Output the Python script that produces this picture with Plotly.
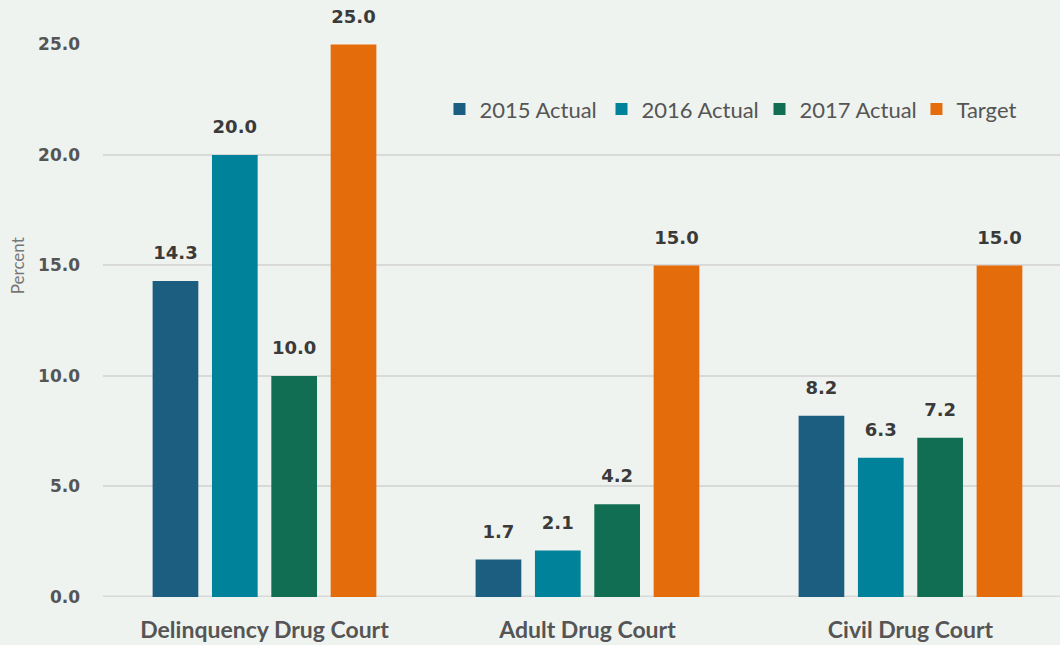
import plotly.graph_objects as go

categories = ["Delinquency Drug Court", "Adult Drug Court", "Civil Drug Court"]
series_names = ["2015 Actual", "2016 Actual", "2017 Actual", "Target"]
actual_2015 = [14.3, 1.7, 8.2]
actual_2016 = [20.0, 2.1, 6.3]
actual_2017 = [10.0, 4.2, 7.2]
target = [25.0, 15.0, 15.0]
colors = ["#1c5e80", "#00829a", "#126e52", "#e56c0b"]
y_ticks = [0, 5, 10, 15, 20, 25]

legend_ids = ["legend", "legend2", "legend3", "legend4"]
legend_x = [0.3516, 0.5209, 0.6860, 0.8500]

fig = go.Figure()
all_series = [actual_2015, actual_2016, actual_2017, target]
for i, (name, vals, col) in enumerate(zip(series_names, all_series, colors)):
    fig.add_trace(go.Bar(
        x=categories, y=vals, name=name, offsetgroup=str(i), legend=legend_ids[i],
        marker=dict(color=col, line=dict(width=0)),
    ))
for i, vals in enumerate(all_series):
    fig.add_trace(go.Scatter(
        x=categories, y=vals, mode="markers+text", offsetgroup=str(i), showlegend=False,
        text=[f"{v:.1f}" for v in vals], textposition="top center",
        marker=dict(size=26, opacity=0),
        textfont=dict(family="DejaVu Sans", size=18, color="#3a3a3a", weight="bold"),
        cliponaxis=False, hoverinfo="skip",
    ))

legend_style = dict(orientation="h", xanchor="left", y=0.882, yanchor="middle",
                    font=dict(family="Lato", size=22, color="#555555"),
                    bgcolor="rgba(0,0,0,0)", itemwidth=30)

fig.update_layout(
    width=1060, height=645,
    paper_bgcolor="#eff3ef", plot_bgcolor="#eff3ef",
    margin=dict(l=103, r=0, t=44, b=48, autoexpand=False),
    barmode="group", bargap=0.265, bargroupgap=0.23,
    scattermode="group", scattergap=0.265,
    showlegend=True,
    font=dict(family="Lato"),
    annotations=[dict(text="Percent", xref="paper", yref="paper", x=-0.0899, y=0.6,
                      textangle=-90, showarrow=False, xanchor="center", yanchor="middle",
                      font=dict(family="Lato", size=17, color="#777777"))],
)
for lid, lx in zip(legend_ids, legend_x):
    fig.update_layout({lid: dict(legend_style, x=lx)})

fig.update_yaxes(range=[0, 25.02], tickvals=y_ticks, tickformat=".1f", automargin=False,
                 gridcolor="#d8d9d8", gridwidth=2, zeroline=False, showline=False,
                 tickfont=dict(family="DejaVu Sans", size=17, color="#555555", weight="bold"),
                 ticklabelstandoff=22)
fig.update_xaxes(showline=False, automargin=False, range=[-0.5, 2.463],
                 tickfont=dict(family="Lato", size=23, color="#555555", weight="bold"),
                 ticklabelstandoff=17)
fig.add_shape(type="line", xref="paper", yref="y", x0=0, x1=1, y0=0, y1=0,
              line=dict(color="#d8d9d8", width=3), layer="below")
fig.write_html("out.html", config={"displayModeBar": False},
               post_script="document.body.style.margin='0';")
